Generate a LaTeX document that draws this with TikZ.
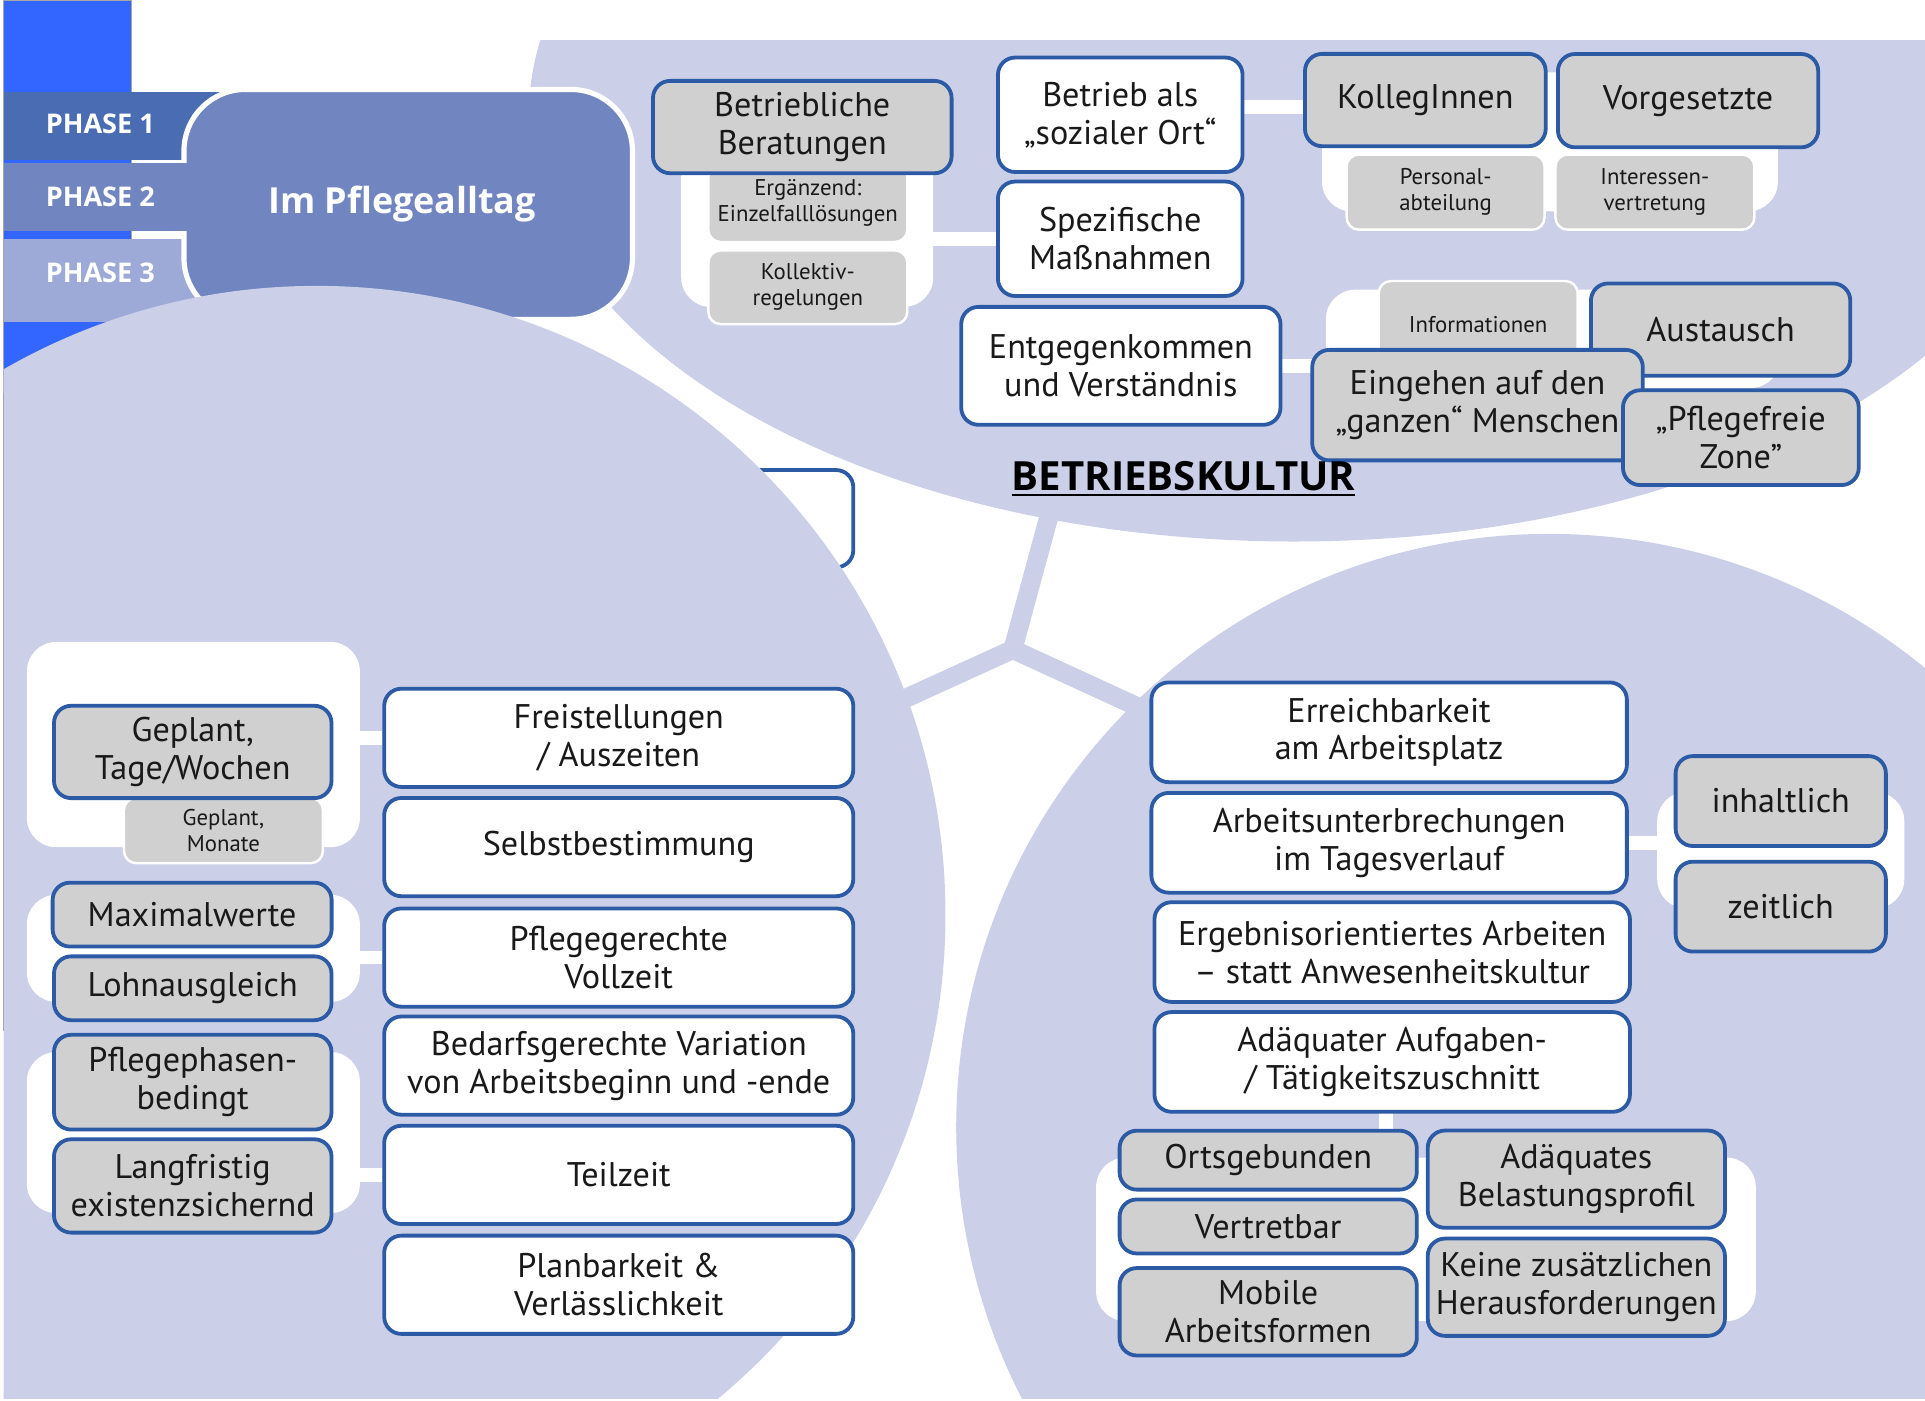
\documentclass[tikz,border=0pt]{standalone}
\usepackage{fontspec}
\setmainfont{PT Sans}
\newfontfamily\titelfont{Open Sans}
\usetikzlibrary{positioning}

\pgfdeclarelayer{hinten}
\pgfdeclarelayer{stege}
\pgfsetlayers{hinten,stege,main}

\definecolor{flieder}{RGB}{203,208,232}
\definecolor{rahmen}{RGB}{44,90,165}
\definecolor{grau}{RGB}{208,208,208}
\definecolor{knallblau}{RGB}{51,102,255}
\definecolor{phaseeins}{RGB}{74,108,179}
\definecolor{phasezwei}{RGB}{113,134,192}
\definecolor{phasedrei}{RGB}{157,169,214}

\newcommand{\unterstrich}[1]{\setbox0=\hbox{#1}\rlap{\rule[-3.5pt]{\wd0}{1.5pt}}\box0}

\begin{document}
\begin{tikzpicture}[x=0.025cm, y=-0.025cm,
  wbox/.style={draw=rahmen, line width=2.2pt, fill=white, rounded corners=0.35cm,
    align=center, inner sep=2pt, text=black!90, font=\fontsize{19.8}{22}\selectfont},
  gbox/.style={wbox, fill=grau},
  kbox/.style={draw=white, line width=1.4pt, fill=grau, rounded corners=0.25cm,
    align=center, inner sep=2pt, text=black!90, font=\fontsize{13.2}{15}\selectfont},
  gruppe/.style={fill=white, rounded corners=0.6cm, inner sep=0pt},
  steg/.style={white, line width=8pt},
  band/.style={flieder, line width=11pt, line cap=round},
  reiter/.style={anchor=west, inner sep=0pt, text=white, font=\titelfont\bfseries\fontsize{15.7}{18}\selectfont}]

\useasboundingbox (0,0) rectangle (1568,1141);

\begin{pgfonlayer}{hinten}
  % Betriebskultur
  \begin{scope}
    \clip (0,33) rectangle (1568,1141);
    \fill[flieder] (1054,93) ellipse [x radius=15.575cm, y radius=8.7cm];
  \end{scope}
  \coordinate (hub) at (825,529);
  \coordinate (kulturfuss) at (860,400);
  \coordinate (zeitfuss) at (700,586);
  \coordinate (orgafuss) at (962,592);
  \draw[band] (hub) -- (kulturfuss);
  \draw[band] (hub) -- (zeitfuss);
  \draw[band] (hub) -- (orgafuss);

  % Phasen
  \fill[knallblau, draw=gray!70, line width=0.6pt] (3,0) rectangle (107,320);
  \fill[phaseeins] (3,75) rectangle (180,130);
  \fill[phasedrei] (3,195) rectangle (180,262);
  \node[draw=white, line width=3pt, fill=phasezwei, rounded corners=1.25cm,
    minimum width=9.13cm, minimum height=4.68cm, text=white,
    font=\titelfont\bfseries\fontsize{20.8}{24}\selectfont] (alltag) at (332.5,166.5) {Im Pflegealltag\hspace*{0.25cm}};
  \fill[phasezwei] (3,133) rectangle (156,188);
  \node[reiter] (phase1) at (37,101) {PHASE 1};
  \node[reiter] (phase2) at (37,160) {PHASE 2};
  \node[reiter] (phase3) at (37,222) {PHASE 3};

  \node[wbox, minimum width=9.55cm, minimum height=1.98cm] (verdeckt) at (504,422.5) {};

  % Arbeitszeit und Arbeitsorganisation
  \begin{scope}
    \clip (3,0) rectangle (1568,1139);
    \fill[flieder] (258,745) circle [radius=12.8cm];
    \fill[flieder] (1262,918) circle [radius=12.075cm];
  \end{scope}
  \draw[gray!70, line width=0.6pt] (3,320) -- (3,840);
\end{pgfonlayer}

% Betriebskultur
\node[gruppe, minimum width=5.13cm, minimum height=3.25cm] (grpBeratung) at (657.5,185) {};
\node[kbox, minimum width=4.05cm, minimum height=1.58cm] (ergaenzend) at (658,165.5) {Ergänzend:\\Einzelfalllösungen};
\node[kbox, minimum width=4.05cm, minimum height=1.5cm] (kollektiv) at (658,234) {Kollektiv-\\regelungen};
\node[gbox, minimum width=6.08cm, minimum height=1.88cm] (beratung) at (653.5,103.5) {Betriebliche\\Beratungen};
\node[wbox, minimum width=4.98cm, minimum height=2.33cm] (ort) at (912.5,93.5) {Betrieb als\\„sozialer Ort“};
\node[wbox, minimum width=4.98cm, minimum height=2.33cm] (massnahmen) at (912.5,194.5) {Spezifische\\Maßnahmen};
\node[wbox, minimum width=6.5cm, minimum height=2.4cm] (entgegen) at (913,298) {Entgegenkommen\\und Verständnis};

\node[gruppe, minimum width=9.28cm, minimum height=2.83cm] (grpKollegen) at (1262.5,115.5) {};
\node[kbox, minimum width=4.03cm, minimum height=1.53cm] (personal) at (1177.5,156.5) {Personal-\\abteilung};
\node[kbox, minimum width=4.05cm, minimum height=1.53cm] (interessen) at (1348,156.5) {Interessen-\\vertretung};
\node[gbox, minimum width=4.9cm, minimum height=1.88cm] (kollegen) at (1161,81.5) {KollegInnen};
\node[gbox, minimum width=5.3cm, minimum height=1.9cm] (vorgesetzte) at (1375,82) {Vorgesetzte};

\node[gruppe, minimum width=9.25cm, minimum height=2cm] (grpInfo) at (1265,276) {};
\node[kbox, minimum width=4.05cm, minimum height=1.78cm] (info) at (1204,264.5) {Informationen};
\node[gbox, minimum width=5.28cm, minimum height=1.88cm] (austausch) at (1401.5,268.5) {Austausch};
\node[gbox, minimum width=6.73cm, minimum height=2.25cm] (eingehen) at (1203.5,330) {Eingehen auf den\\„ganzen“ Menschen};
\node[gbox, minimum width=4.8cm, minimum height=1.93cm] (pflegefrei) at (1418,356.5) {„Pflegefreie\\Zone”};

\node[font=\titelfont\bfseries\fontsize{23.3}{26}\selectfont] (kulturtitel) at (964,390) {\unterstrich{BETRIEBSKULTUR}};

% Arbeitszeit
\node[wbox, minimum width=9.55cm, minimum height=2cm] (freist) at (504,601) {Freistellungen\\/ Auszeiten};
\node[wbox, minimum width=9.55cm, minimum height=2cm] (selbst) at (504,690) {Selbstbestimmung};
\node[wbox, minimum width=9.55cm, minimum height=2cm] (vollzeit) at (504,780) {Pflegegerechte\\Vollzeit};
\node[wbox, minimum width=9.55cm, minimum height=2cm] (variation) at (504,868) {Bedarfsgerechte Variation\\von Arbeitsbeginn und -ende};
\node[wbox, minimum width=9.55cm, minimum height=2cm] (teilzeit) at (504,957) {Teilzeit};
\node[wbox, minimum width=9.55cm, minimum height=2cm] (planbar) at (504,1046.5) {Planbarkeit \&\\Verlässlichkeit};

\node[gruppe, minimum width=6.78cm, minimum height=4.18cm] (grpTage) at (157.5,606.5) {};
\node[kbox, minimum width=4.05cm, minimum height=1.33cm] (monate) at (182,676.5) {Geplant,\\Monate};
\node[gbox, minimum width=5.65cm, minimum height=1.88cm] (tage) at (157,612.5) {Geplant,\\Tage/Wochen};
\node[gruppe, minimum width=6.78cm, minimum height=2.18cm] (grpVollzeit) at (157.5,772.5) {};
\node[gbox, minimum width=5.68cm, minimum height=1.3cm] (maximal) at (156.5,745) {Maximalwerte};
\node[gbox, minimum width=5.65cm, minimum height=1.3cm] (lohn) at (157,805) {Lohnausgleich};
\node[gruppe, minimum width=6.78cm, minimum height=3.28cm] (grpTeilzeit) at (157.5,922.5) {};
\node[gbox, minimum width=5.65cm, minimum height=1.93cm] (phasen) at (157,881.5) {Pflegephasen-\\bedingt};
\node[gbox, minimum width=5.65cm, minimum height=1.9cm] (langfristig) at (157,966) {Langfristig\\existenzsichernd};

% Arbeitsorganisation
\node[wbox, minimum width=9.68cm, minimum height=2.03cm] (erreich) at (1131.5,596.5) {Erreichbarkeit\\am Arbeitsplatz};
\node[wbox, minimum width=9.68cm, minimum height=2.03cm] (unterbr) at (1131.5,686.5) {Arbeitsunterbrechungen\\im Tagesverlauf};
\node[wbox, minimum width=9.68cm, minimum height=2.03cm] (ergebnis) at (1134,775.5) {Ergebnisorientiertes Arbeiten\\– statt Anwesenheitskultur};
\node[wbox, minimum width=9.68cm, minimum height=2.03cm] (zuschnitt) at (1134,865) {Adäquater Aufgaben-\\/ Tätigkeitszuschnitt};

\node[gruppe, minimum width=5.03cm, minimum height=2.38cm] (grpZeitlich) at (1450.5,692.5) {};
\node[gbox, minimum width=4.28cm, minimum height=1.83cm] (inhaltlich) at (1450.5,652.5) {inhaltlich};
\node[gbox, minimum width=4.28cm, minimum height=1.83cm] (zeitlich) at (1450.5,738.5) {zeitlich};

\node[gruppe, minimum width=13.43cm, minimum height=3.33cm] (grpOrt) at (1161.5,1009.5) {};
\node[gbox, minimum width=6.05cm, minimum height=1.2cm] (ortsgeb) at (1033,945) {Ortsgebunden};
\node[gbox, minimum width=6.05cm, minimum height=1.1cm] (vertretbar) at (1033,999) {Vertretbar};
\node[gbox, minimum width=6.05cm, minimum height=1.78cm] (mobile) at (1033,1068.5) {Mobile\\Arbeitsformen};
\node[gbox, minimum width=6.05cm, minimum height=1.98cm] (belastung) at (1284,960.5) {Adäquates\\Belastungsprofil};
\node[gbox, minimum width=6.05cm, minimum height=1.98cm] (keine) at (1284,1048.5) {Keine zusätzlichen\\Herausforderungen};

% Stege
\begin{pgfonlayer}{stege}
  \draw[steg] (massnahmen) -- (massnahmen -| grpBeratung);
  \draw[steg] ([yshift=0.16cm]ort.center) -- ([yshift=0.16cm]ort.center -| grpKollegen.center);
  \draw[steg] (entgegen) -- (entgegen -| grpInfo);
  \draw[steg] (freist) -- (freist -| grpTage);
  \draw[steg] (vollzeit) -- (vollzeit -| grpVollzeit);
  \draw[steg] (teilzeit) -- (teilzeit -| grpTeilzeit);
  \draw[steg] (unterbr) -- (unterbr -| grpZeitlich);
  \draw[steg] ([xshift=-0.13cm]zuschnitt.center) -- ([xshift=-0.13cm]zuschnitt.center |- grpOrt.center);
\end{pgfonlayer}
\end{tikzpicture}
\end{document}
